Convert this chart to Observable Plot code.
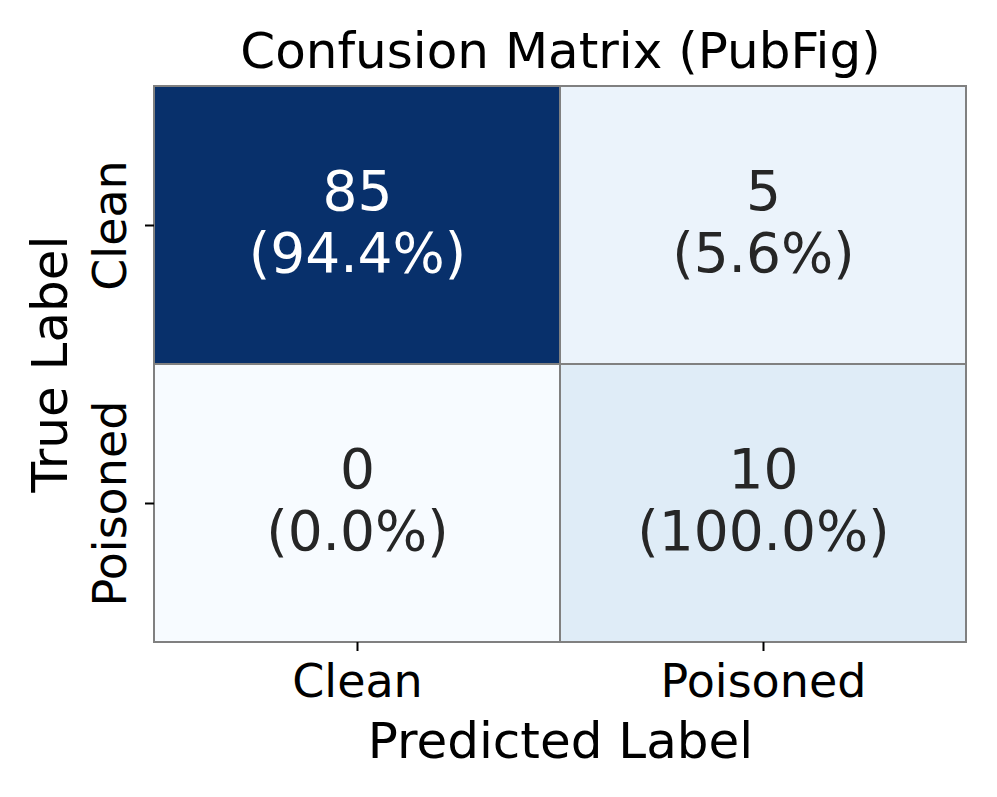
<!DOCTYPE html>
<html>
<head>
<meta charset="utf-8">
<script src="https://cdn.jsdelivr.net/npm/d3@7"></script>
<script src="https://cdn.jsdelivr.net/npm/@observablehq/plot@0.6"></script>
<style>
  html, body { margin: 0; padding: 0; background: #fff; }
  #chart svg { display: block; }
</style>
</head>
<body>
<div id="chart"></div>
<script>
const titleText = "Confusion Matrix (PubFig)";
const xAxisLabel = "Predicted Label";
const yAxisLabel = "True Label";
const classLabels = ["Clean", "Poisoned"];
const trueLabels = ["Clean", "Clean", "Poisoned", "Poisoned"];
const predLabels = ["Clean", "Poisoned", "Clean", "Poisoned"];
const counts = [85, 5, 0, 10];
const bluesColors = ["#f7fbff","#deebf7","#c6dbef","#9ecae1","#6baed6","#4292c6","#2171b5","#08519c","#08306b"];

const rowTotals = {};
trueLabels.forEach((t, i) => { rowTotals[t] = (rowTotals[t] || 0) + counts[i]; });
const cells = counts.map((c, i) => ({
  trueLabel: trueLabels[i],
  pred: predLabels[i],
  count: c,
  pct: (100 * c / rowTotals[trueLabels[i]]).toFixed(1)
}));
const vmax = d3.max(counts);

const chart = Plot.plot({
  width: 997,
  height: 797,
  marginLeft: 154,
  marginRight: 31,
  marginTop: 85,
  marginBottom: 155,
  style: { fontFamily: "'DejaVu Sans', sans-serif", background: "#fff", color: "#000" },
  x: { domain: classLabels, padding: 0, label: null },
  y: { domain: classLabels, padding: 0, label: null },
  color: { type: "linear", domain: [0, vmax], interpolate: d3.piecewise(d3.interpolateRgb, bluesColors) },
  marks: [
    Plot.cell(cells, { x: "pred", y: "trueLabel", fill: "count", stroke: "gray", strokeWidth: 2, inset: 0 }),
    Plot.text(cells, {
      x: "pred", y: "trueLabel",
      text: d => `${d.count}\n(${d.pct}%)`,
      fill: d => d.count / vmax > 0.5 ? "#ffffff" : "#262626",
      fontSize: 55, lineHeight: 1.127, dy: -4
    }),
    Plot.axisX({ tickSize: 9, tickPadding: 13, fontSize: 46, strokeWidth: 2, label: null }),
    Plot.axisY({ tickSize: 9, strokeWidth: 2, tickFormat: () => "", label: null }),
    Plot.text(classLabels, { y: d => d, frameAnchor: "left", textAnchor: "middle", rotate: -90, dx: -29, lineAnchor: "bottom", fontSize: 46, fill: "#000" }),
    Plot.text([titleText], { frameAnchor: "top", textAnchor: "middle", lineAnchor: "bottom", dy: -18, fontSize: 50, fill: "#000" }),
    Plot.text([xAxisLabel], { frameAnchor: "bottom", textAnchor: "middle", lineAnchor: "bottom", dy: 115, fontSize: 50, fill: "#000" }),
    Plot.text([yAxisLabel], { frameAnchor: "left", textAnchor: "middle", rotate: -90, lineAnchor: "bottom", dx: -88, fontSize: 50, fill: "#000" })
  ]
});
document.getElementById("chart").appendChild(chart);
</script>
</body>
</html>
